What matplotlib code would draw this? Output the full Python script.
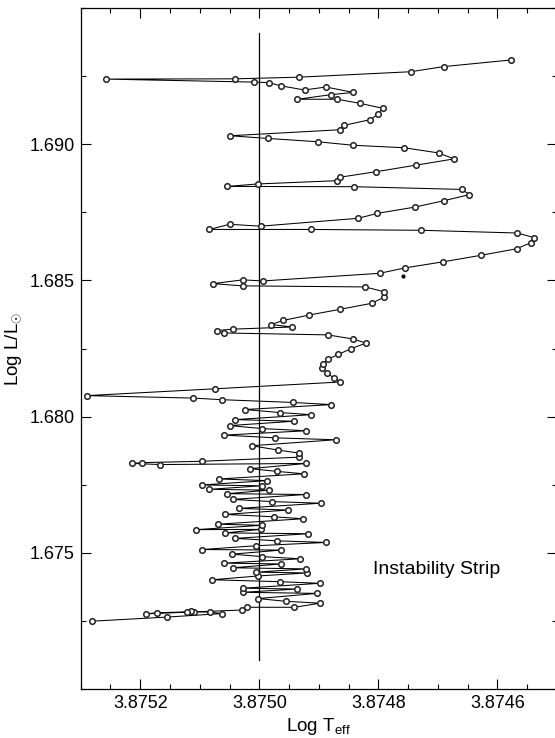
import matplotlib
matplotlib.use("Agg")
import matplotlib.pyplot as plt
from matplotlib.ticker import FixedLocator, MultipleLocator

plt.rcParams['font.family'] = ['Liberation Sans', 'DejaVu Sans']
plt.rcParams['mathtext.fontset'] = 'custom'
plt.rcParams['mathtext.rm'] = 'Liberation Sans'
plt.rcParams['mathtext.it'] = 'Liberation Sans:italic'

# Track: log Teff and log L/Lsun, in plotted order
log_teff = [
    3.875281, 3.875155, 3.875063, 3.875082, 3.875109, 3.875114, 3.875121, 3.875172,
    3.875190, 3.875029, 3.875021, 3.874941,
    3.874898, 3.874956, 3.875002, 3.874903, 3.875027, 3.874937, 3.875028, 3.874898,
    3.874966, 3.875079, 3.875002, 3.874920, 3.875005, 3.874921, 3.875045, 3.874963,
    3.875059, 3.874931, 3.874995, 3.875046, 3.874963, 3.875096, 3.875005, 3.874888,
    3.874971, 3.875040, 3.874918, 3.875057, 3.874998, 3.875106, 3.874996, 3.875070,
    3.874926, 3.874975, 3.875057, 3.874951, 3.875034, 3.874897, 3.874978, 3.875045,
    3.874922, 3.875054, 3.874984, 3.875084, 3.874996, 3.875097, 3.874987, 3.875068,
    3.874925, 3.874971, 3.875015, 3.874921, 3.875166, 3.875213, 3.875197, 3.875097,
    3.874934, 3.874933, 3.874968, 3.875013, 3.874872, 3.874973, 3.875059, 3.874921,
    3.874995, 3.875050, 3.874942, 3.875040, 3.874913, 3.874966, 3.875024, 3.874879,
    3.874944, 3.875062, 3.875112, 3.875290, 3.875075,
    3.874864, 3.874875, 3.874887, 3.874894, 3.874893, 3.874884, 3.874867, 3.874846,
    3.874821, 3.874843, 3.874885, 3.875060, 3.875071, 3.875045, 3.874945, 3.874980,
    3.874960, 3.874916, 3.874864, 3.874811, 3.874790, 3.874790, 3.874822, 3.875028,
    3.875078, 3.875028, 3.874994, 3.874798, 3.874755, 3.874692, 3.874628, 3.874568,
    3.874544, 3.874538, 3.874567, 3.874729, 3.874913, 3.875084, 3.875050, 3.874998,
    3.874834, 3.874802, 3.874739, 3.874689, 3.874647, 3.874660, 3.874841, 3.875054,
    3.875003, 3.874870, 3.874864, 3.874804, 3.874737, 3.874673, 3.874699, 3.874757,
    3.874842, 3.874902, 3.874985, 3.875049, 3.874865, 3.874858, 3.874814, 3.874800,
    3.874793, 3.874831, 3.874869, 3.874936, 3.874879, 3.874842, 3.874888, 3.874924,
    3.874963, 3.874984, 3.875009, 3.875258, 3.875040, 3.874934, 3.874746, 3.874690,
    3.874578,
]
log_lum = [
    1.67249, 1.67264, 1.67277, 1.67282, 1.67284, 1.67288, 1.67283, 1.67280,
    1.67276, 1.67290, 1.67300, 1.67300,
    1.67315, 1.67322, 1.67332, 1.67351, 1.67355, 1.67367, 1.67370, 1.67388,
    1.67394, 1.67401, 1.67415, 1.67426, 1.67429, 1.67441, 1.67445, 1.67459,
    1.67462, 1.67478, 1.67486, 1.67495, 1.67510, 1.67512, 1.67526, 1.67538,
    1.67544, 1.67553, 1.67570, 1.67573, 1.67586, 1.67585, 1.67601, 1.67605,
    1.67625, 1.67632, 1.67641, 1.67657, 1.67663, 1.67682, 1.67688, 1.67696,
    1.67714, 1.67717, 1.67730, 1.67733, 1.67746, 1.67749, 1.67765, 1.67771,
    1.67790, 1.67799, 1.67809, 1.67828, 1.67824, 1.67828, 1.67831, 1.67836,
    1.67851, 1.67866, 1.67877, 1.67893, 1.67915, 1.67922, 1.67932, 1.67948,
    1.67956, 1.67967, 1.67983, 1.67989, 1.68007, 1.68015, 1.68026, 1.68044,
    1.68052, 1.68062, 1.68068, 1.68077, 1.68102,
    1.68127, 1.68143, 1.68160, 1.68177, 1.68194, 1.68211, 1.68229, 1.68249,
    1.68270, 1.68285, 1.68300, 1.68307, 1.68316, 1.68321, 1.68329, 1.68338,
    1.68353, 1.68373, 1.68394, 1.68416, 1.68439, 1.68458, 1.68476, 1.68480,
    1.68488, 1.68502, 1.68498, 1.68526, 1.68546, 1.68568, 1.68592, 1.68616,
    1.68638, 1.68657, 1.68674, 1.68684, 1.68687, 1.68687, 1.68706, 1.68699,
    1.68728, 1.68746, 1.68769, 1.68793, 1.68815, 1.68834, 1.68844, 1.68845,
    1.68854, 1.68866, 1.68879, 1.68899, 1.68923, 1.68946, 1.68968, 1.68987,
    1.68996, 1.69009, 1.69021, 1.69031, 1.69053, 1.69069, 1.69090, 1.69111,
    1.69132, 1.69150, 1.69165, 1.69165, 1.69182, 1.69190, 1.69210, 1.69199,
    1.69214, 1.69226, 1.69228, 1.69239, 1.69240, 1.69246, 1.69266, 1.69285,
    1.69309,
]

stray_teff = [3.874759]
stray_lum = [1.68516]

strip_teff = 3.8750
strip_lum_range = [1.67108, 1.69407]

x_ticks = [3.8752, 3.8750, 3.8748, 3.8746]
x_tick_labels = ["3.8752", "3.8750", "3.8748", "3.8746"]
y_ticks = [1.675, 1.680, 1.685, 1.690]
y_tick_labels = ["1.675", "1.680", "1.685", "1.690"]

fig = plt.figure(figsize=(5.55, 7.38), dpi=100)
ax = fig.add_axes([80.7 / 555, 49 / 738, 476.3 / 555, 681 / 738])

ax.plot(log_teff, log_lum, '-', color='black', lw=0.75, zorder=2)
ax.plot(log_teff, log_lum, 'o', ms=4, mfc='white', mec='#222222', mew=1.1, zorder=3)
ax.plot(stray_teff, stray_lum, 'o', ms=2, color='black', zorder=3)
ax.plot([strip_teff, strip_teff], strip_lum_range, '-', color='black', lw=0.9, zorder=1)

ax.set_xlim(3.8753, 3.8745)
ax.set_ylim(1.670, 1.695)

ax.xaxis.set_major_locator(FixedLocator(x_ticks))
ax.set_xticklabels(x_tick_labels)
ax.xaxis.set_minor_locator(MultipleLocator(0.00005))
ax.yaxis.set_major_locator(FixedLocator(y_ticks))
ax.set_yticklabels(y_tick_labels)
ax.yaxis.set_minor_locator(MultipleLocator(0.0025))

ax.tick_params(which='both', direction='in', top=True, right=True, labelsize=13, pad=4.5)
ax.tick_params(which='major', length=7, width=0.8)
ax.tick_params(which='minor', length=3.5, width=0.8)
for s in ax.spines.values():
    s.set_linewidth(0.9)

ax.set_xlabel(r'Log T$_{\mathrm{eff}}$', fontsize=13.5, labelpad=3)
ax.set_ylabel(r'Log L/L$_{\odot}$', fontsize=13.5, labelpad=4)

ax.text(3.874809, 1.67422, 'Instability Strip', fontsize=14, ha='left', va='baseline')

fig.savefig('out.png', dpi=100)
